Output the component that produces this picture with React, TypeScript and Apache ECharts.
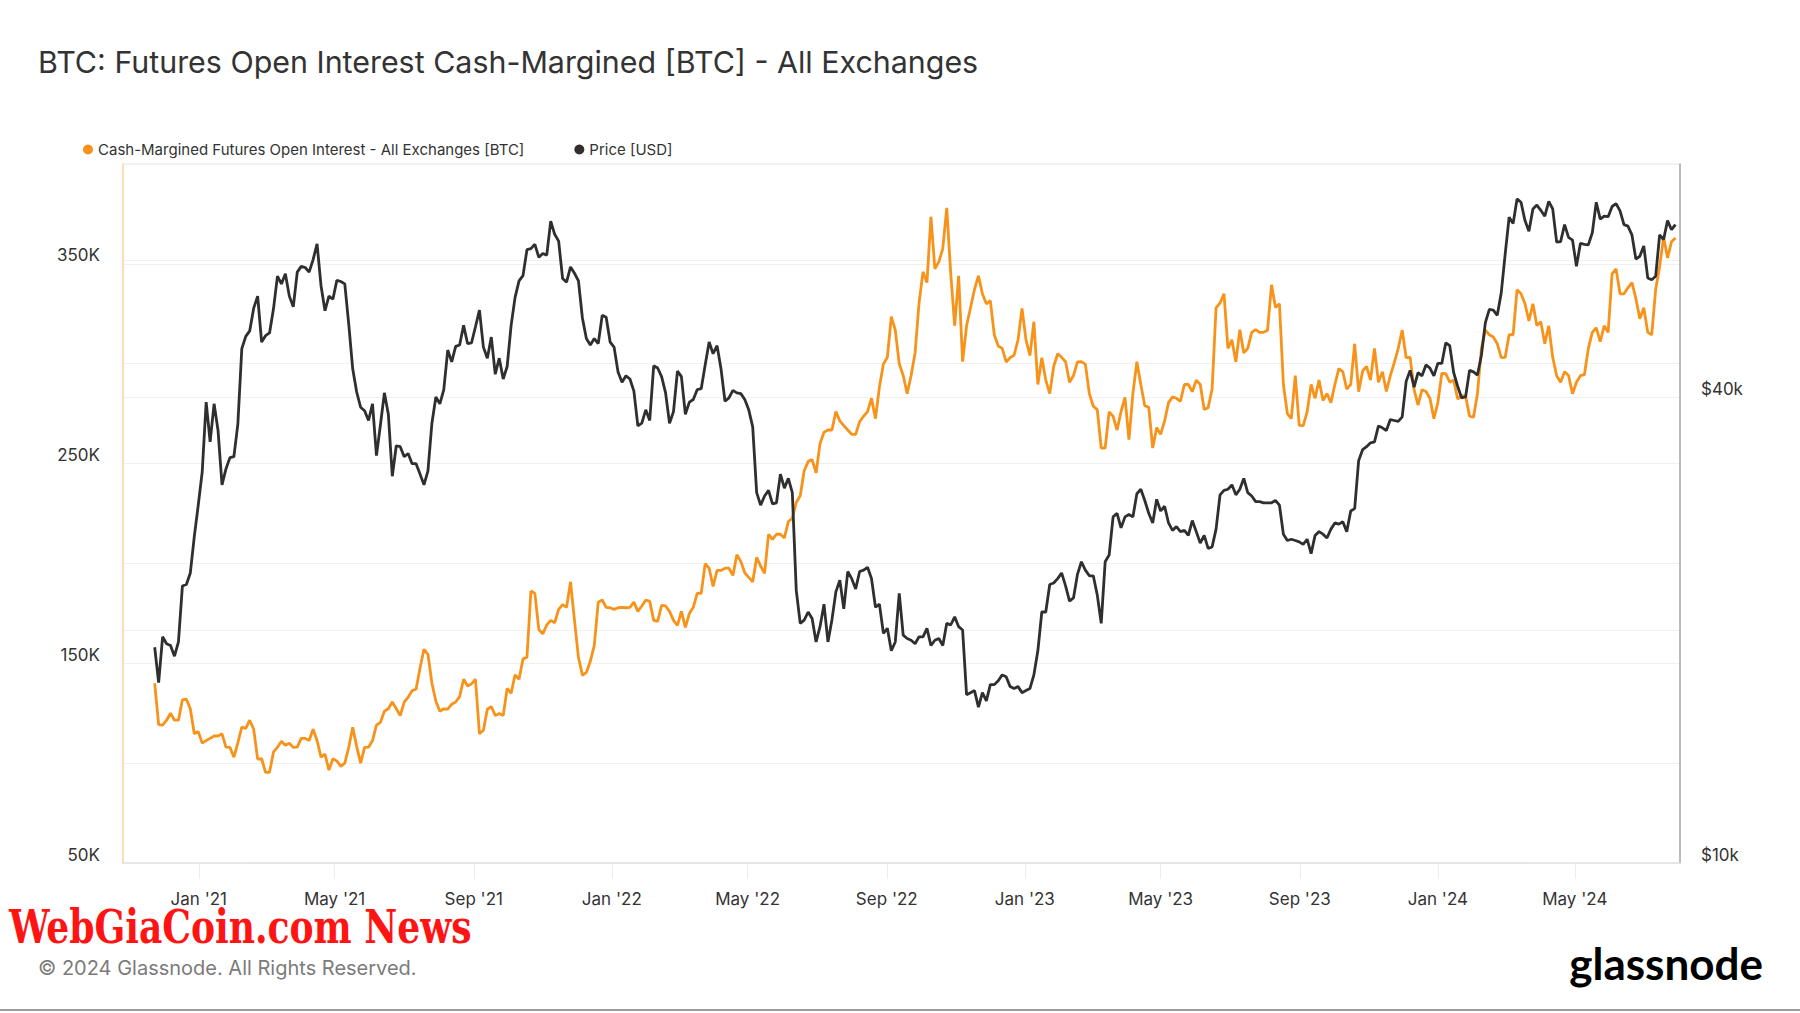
import React, { useEffect, useRef } from 'react';
import * as echarts from 'echarts';

// Samples every 3.5 days starting 2020-11-23
const START_DATE_UTC = Date.UTC(2020, 10, 23);
const SAMPLE_STEP_DAYS = 3.5;

// Cash-margined futures open interest, thousands of BTC
const OPEN_INTEREST_K = [
  140, 119.3, 119, 121.5, 125, 121.5, 121.5, 131.7, 132, 127.2,
  114.7, 115.8, 110, 111.3, 112.4, 113.6, 113.6, 114.7, 108, 107.9,
  103, 110.2, 118, 117.4, 121.5, 117, 102, 102.2, 95.4, 95.4,
  105.6, 107.9, 111, 109, 110, 107.9, 108, 112.4, 112.4, 111.3,
  117, 111.3, 103, 104.5, 96.5, 102.2, 101, 98.4, 100, 107.9,
  118, 108.4, 100, 107.9, 108, 111.3, 119, 120.4, 126, 127.2,
  130.6, 127.2, 123.8, 130.6, 133, 136.3, 137, 147.6, 157, 154.5,
  140, 131, 126, 127.2, 127, 129.5, 130.6, 133.3, 142, 138.6,
  139.7, 142, 114.7, 116.5, 127, 128.3, 123.8, 124.9, 123.8, 137.4,
  135, 144.2, 142, 152.2, 153, 186.2, 185, 166.9, 164.7, 169.2,
  171.5, 170.3, 177, 179.4, 178, 190.8, 171.5, 153, 144, 145.4,
  151, 159, 180.6, 181.7, 178, 177.8, 177, 177.8, 178, 177.8,
  178, 180.6, 176, 178.7, 181.7, 181, 171.5, 171, 179, 178.7,
  176, 171.5, 169, 176, 168, 174.9, 178, 185.1, 185, 199.9,
  197.6, 188.5, 196.5, 196.5, 197.6, 197.6, 194, 204.4, 201, 195.3,
  193, 190.8, 203, 198.7, 195, 214.6, 212, 214.6, 214.6, 212.8,
  221, 222.6, 230.5, 233.9, 246.4, 251, 252, 245.3, 260, 265.7,
  266.8, 266.8, 276, 271.4, 269, 266.8, 264.6, 264.6, 271, 273.7,
  276, 282.7, 272.5, 288.4, 299.8, 303.2, 323.6, 316.8, 300, 294.1,
  285, 294.1, 305.4, 330.4, 346, 340.6, 373.6, 347.5, 351, 357.7,
  378, 345.2, 319, 344, 301, 319, 328, 337.2, 344, 335,
  330, 331.6, 314.5, 308.9, 307.7, 300.9, 303, 304.3, 312, 327.7,
  312, 304.1, 321, 289.6, 303, 291.8, 285, 298.6, 305, 303.2,
  301, 290.7, 294, 300.9, 301, 299.8, 285, 278.7, 277, 257.8,
  257.8, 275.9, 273.7, 266.8, 276, 283.2, 262, 285, 301, 289.6,
  279, 278.2, 257.8, 268, 264.6, 271.4, 280.5, 283.4, 282.7, 281.2,
  289.6, 289.6, 286, 291.8, 289.6, 277.1, 278, 287.3, 328, 330.4,
  335, 307.7, 312, 300.9, 317, 305.4, 307.7, 315.7, 317, 315.7,
  315.7, 316.8, 339.5, 328.2, 330, 289.6, 275, 272.5, 294, 269.1,
  269, 275.9, 289.6, 282.7, 291.8, 281.6, 285, 280.5, 289.6, 297.5,
  296, 287.3, 289.6, 310, 286, 296.4, 298.6, 291.8, 307.7, 290.7,
  296, 286.1, 294, 300.5, 307.7, 316.8, 303, 303.2, 287, 279.3,
  287, 286.1, 282.7, 272.5, 280.5, 295.2, 295, 290.7, 291.8, 282.3,
  284, 283.9, 273.7, 273.2, 285, 307.7, 316.8, 314.5, 313.4, 310,
  303, 303.2, 314.5, 314.5, 337, 335, 330, 321.4, 330, 319.1,
  321, 310, 319, 303.2, 294, 290.7, 296, 294.1, 285, 290.7,
  294, 294.5, 307.7, 315.7, 318, 311.1, 319, 315.7, 345, 347.5,
  335, 335, 338, 340.6, 332.7, 322.5, 328, 315.7, 314.5, 337.2,
  348.6, 363.4, 353, 361.1, 363,
];

// BTC price, thousands of USD
const PRICE_K = [
  19.0, 17.1, 19.6, 19.2, 19.1, 18.5, 19.3, 22.8, 22.9, 23.7,
  26.4, 29.0, 32.0, 39.4, 35.0, 39.2, 36.2, 30.8, 32.3, 33.4,
  33.5, 36.9, 46.2, 47.9, 48.7, 52.1, 54.0, 47.1, 48.0, 48.4,
  52.0, 57.3, 56.0, 57.7, 54.0, 52.3, 58.0, 59.0, 58.8, 58.0,
  60.2, 63.1, 55.7, 51.7, 54.0, 53.5, 56.6, 56.4, 56.0, 49.7,
  43.5, 40.6, 38.8, 38.4, 37.3, 39.2, 33.6, 36.8, 40.5, 38.0,
  31.6, 34.6, 34.5, 33.5, 33.8, 32.8, 32.8, 31.8, 30.8, 32.1,
  37.0, 40.0, 39.2, 40.9, 46.0, 44.4, 46.5, 46.7, 49.5, 46.9,
  47.0, 49.3, 51.8, 46.4, 44.9, 47.8, 42.8, 44.9, 42.2, 43.8,
  49.5, 53.8, 56.5, 57.4, 62.0, 62.2, 63.0, 60.6, 61.3, 61.0,
  67.5, 64.9, 63.6, 56.9, 56.3, 58.9, 57.8, 56.5, 50.6, 47.6,
  46.7, 47.6, 46.9, 51.0, 50.7, 47.1, 46.4, 43.1, 41.8, 42.6,
  42.2, 40.7, 36.7, 37.0, 38.5, 37.3, 43.9, 43.6, 42.5, 40.5,
  37.0, 38.3, 43.2, 42.5, 38.0, 39.4, 39.7, 40.9, 41.0, 44.0,
  47.1, 45.5, 46.6, 43.5, 39.5, 39.9, 40.8, 40.5, 40.4, 39.7,
  38.5, 36.6, 30.1, 29.0, 29.8, 30.3, 29.1, 29.2, 31.8, 30.5,
  31.4, 30.1, 22.5, 20.4, 20.6, 21.1, 20.7, 19.3, 20.2, 21.6,
  19.3, 20.6, 22.4, 23.2, 21.3, 23.8, 23.3, 22.6, 23.8, 23.9,
  24.1, 23.3, 21.4, 21.6, 19.8, 20.1, 18.8, 19.3, 22.3, 19.7,
  19.5, 19.4, 19.2, 19.6, 19.6, 20.1, 19.1, 19.4, 19.5, 19.1,
  20.4, 20.3, 20.8, 20.2, 20.0, 16.5, 16.6, 16.7, 15.9, 16.6,
  16.2, 17.0, 17.0, 17.2, 17.5, 17.4, 16.9, 16.8, 16.9, 16.6,
  16.7, 16.8, 17.5, 18.8, 21.1, 21.1, 22.9, 23.0, 23.3, 23.7,
  22.8, 21.8, 22.0, 23.6, 24.5, 23.9, 23.5, 23.5, 22.2, 20.4,
  24.5, 25.0, 28.0, 28.3, 27.1, 28.0, 28.2, 28.0, 30.0, 30.4,
  29.4, 28.3, 27.5, 29.5, 28.5, 28.9, 27.5, 26.9, 27.2, 26.8,
  26.9, 26.5, 27.7, 26.8, 25.9, 26.5, 25.5, 25.6, 27.0, 29.9,
  30.3, 30.4, 30.8, 29.9, 30.4, 31.4, 30.1, 29.8, 29.3, 29.3,
  29.2, 29.2, 29.2, 29.4, 29.0, 26.6, 26.1, 26.2, 26.1, 26.0,
  25.8, 26.2, 25.1, 26.5, 26.8, 26.6, 26.3, 27.0, 27.5, 27.4,
  27.6, 26.8, 28.5, 28.7, 33.1, 34.2, 34.5, 34.9, 35.0, 36.7,
  36.5, 36.2, 37.4, 37.3, 37.2, 37.7, 41.9, 43.3, 41.2, 43.0,
  42.6, 44.0, 43.6, 42.6, 44.2, 44.2, 47.0, 46.6, 43.0, 41.3,
  39.9, 40.0, 43.3, 43.1, 42.7, 45.3, 49.9, 51.9, 51.8, 51.0,
  54.5, 61.2, 68.3, 67.0, 72.1, 71.4, 67.6, 65.5, 70.0, 70.8,
  69.7, 68.5, 71.6, 70.0, 63.4, 63.5, 66.8, 64.3, 63.8, 59.0,
  63.2, 63.0, 62.9, 65.2, 71.4, 67.9, 68.5, 68.4, 70.5, 71.1,
  69.6, 66.8, 66.5, 64.8, 60.3, 60.8, 62.7, 57.0, 56.7, 57.3,
  64.8, 63.9, 67.6, 65.8, 66.8,
];

const X_TICK_DATES = [
  '2021-01-01', '2021-05-01', '2021-09-01', '2022-01-01', '2022-05-01', '2022-09-01',
  '2023-01-01', '2023-05-01', '2023-09-01', '2024-01-01', '2024-05-01',
];
const X_MIN_DATE = '2020-10-26';
const X_MAX_DATE = '2024-08-02';
const MONTH_NAMES = ['Jan', 'Feb', 'Mar', 'Apr', 'May', 'Jun', 'Jul', 'Aug', 'Sep', 'Oct', 'Nov', 'Dec'];
const LEFT_LABELS_K = [50, 150, 250, 350];
const RIGHT_GRID_K = [10, 20, 40, 60, 80];
const RIGHT_LABELS_K = [10, 40];

const TITLE = 'BTC: Futures Open Interest Cash-Margined [BTC] - All Exchanges';
const OI_NAME = 'Cash-Margined Futures Open Interest - All Exchanges [BTC]';
const PRICE_NAME = 'Price [USD]';
const WATERMARK = 'WebGiaCoin.com News';
const COPYRIGHT = '© 2024 Glassnode. All Rights Reserved.';

const ORANGE = '#f7931a';
const DARK = '#2f2f2f';
const FONT = 'Inter, "Noto Sans", sans-serif';

const toUtc = (s: string) => Date.parse(s + 'T00:00:00Z');

export default function App() {
  const ref = useRef<HTMLDivElement>(null);

  useEffect(() => {
    if (!ref.current) return;
    const chart = echarts.init(ref.current, null, { renderer: 'svg' });
    const dayMs = 86400000;
    const times = OPEN_INTEREST_K.map((_, i) => START_DATE_UTC + i * SAMPLE_STEP_DAYS * dayMs);
    const tickTimes = X_TICK_DATES.map(toUtc);

    // scale the watermark to its width in the reference
    let wmScale = 1;
    const cv = document.createElement('canvas').getContext('2d');
    if (cv) {
      cv.font = 'bold 46px "DejaVu Serif Condensed"';
      const w = cv.measureText(WATERMARK).width;
      if (w > 0) wmScale = 463 / w;
    }

    chart.setOption({
      animation: false,
      backgroundColor: '#ffffff',
      title: {
        text: TITLE,
        left: 38,
        top: 47,
        padding: 0,
        textStyle: { fontFamily: FONT, fontSize: 30.4, fontWeight: 'normal', color: '#333333' },
      },
      legend: {
        left: 83,
        top: 142,
        padding: 0,
        icon: 'circle',
        itemWidth: 10,
        itemHeight: 10,
        itemGap: 50,
        data: [OI_NAME, PRICE_NAME],
        textStyle: { fontFamily: FONT, fontSize: 15, color: '#333333' },
      },
      grid: {
        left: 123,
        right: 120,
        top: 164,
        bottom: 150,
        show: true,
        borderColor: '#ebebeb',
        borderWidth: 1,
      },
      xAxis: {
        type: 'value',
        min: toUtc(X_MIN_DATE),
        max: toUtc(X_MAX_DATE),
        axisLine: { show: true, lineStyle: { color: '#e2e2e2', width: 1.5 } },
        axisTick: { show: true, customValues: tickTimes, length: 16, lineStyle: { color: '#ececec' } },
        axisLabel: {
          customValues: tickTimes,
          formatter: (v: number) => {
            const d = new Date(v);
            return MONTH_NAMES[d.getUTCMonth()] + " '" + String(d.getUTCFullYear()).slice(2);
          },
          margin: 27,
          fontSize: 17,
          color: '#333333',
          fontFamily: FONT,
        },
        splitLine: { show: false },
      },
      yAxis: [
        {
          type: 'value',
          position: 'left',
          min: 50,
          max: 400,
          interval: 50,
          axisLine: { show: true, lineStyle: { color: '#fcd4a0', width: 1.5 } },
          axisTick: { show: false },
          axisLabel: {
            formatter: (v: number) => (LEFT_LABELS_K.includes(Math.round(v)) ? Math.round(v) + 'K' : ''),
            fontSize: 17,
            color: '#333333',
            fontFamily: FONT,
            margin: 23,
            verticalAlign: 'bottom',
          },
          splitLine: { show: true, lineStyle: { color: '#f0f0f0', width: 1 } },
        },
        {
          type: 'log',
          logBase: 2,
          position: 'right',
          min: 10,
          max: 80,
          axisLine: { show: true, lineStyle: { color: '#a8a8a8', width: 1.5 } },
          axisTick: { show: false, customValues: RIGHT_GRID_K },
          axisLabel: {
            customValues: RIGHT_LABELS_K,
            formatter: (v: number) => '$' + Math.round(v) + 'k',
            fontSize: 17,
            color: '#333333',
            fontFamily: FONT,
            margin: 21,
            verticalAlign: 'bottom',
          },
          splitLine: { show: true, lineStyle: { color: '#f0f0f0', width: 1 } },
        },
      ],
      series: [
        {
          name: OI_NAME,
          type: 'line',
          yAxisIndex: 0,
          data: times.map((t, i) => [t, OPEN_INTEREST_K[i]]),
          symbol: 'none',
          showSymbol: false,
          lineStyle: { color: ORANGE, width: 2.8 },
          itemStyle: { color: ORANGE },
          z: 2,
        },
        {
          name: PRICE_NAME,
          type: 'line',
          yAxisIndex: 1,
          data: times.map((t, i) => [t, PRICE_K[i]]),
          symbol: 'none',
          showSymbol: false,
          lineStyle: { color: DARK, width: 2.8 },
          itemStyle: { color: DARK },
          z: 3,
        },
      ],
      graphic: [
        {
          type: 'text',
          x: 9,
          y: 926,
          scaleX: wmScale,
          style: {
            text: WATERMARK,
            fontFamily: '"DejaVu Serif Condensed", "DejaVu Serif", serif',
            fontWeight: 'bold',
            fontSize: 46,
            fill: '#ff1414',
            textAlign: 'left',
            textVerticalAlign: 'middle',
          },
        },
        {
          type: 'text',
          x: 38,
          y: 968,
          style: {
            text: COPYRIGHT,
            fontFamily: FONT,
            fontSize: 20,
            fill: '#7b7b7b',
            textAlign: 'left',
            textVerticalAlign: 'middle',
          },
        },
        {
          type: 'text',
          x: 1763,
          y: 963,
          style: {
            text: 'glassnode',
            fontFamily: 'Lato, "Noto Sans", sans-serif',
            fontWeight: 'bold',
            fontSize: 44,
            fill: '#000000',
            textAlign: 'right',
            textVerticalAlign: 'middle',
          },
        },
        {
          type: 'rect',
          x: 0,
          y: 1009,
          shape: { width: 1800, height: 2 },
          style: { fill: '#9c9c9c' },
        },
      ],
    });

    return () => chart.dispose();
  }, []);

  return (
    <div
      ref={ref}
      style={{ position: 'fixed', left: 0, top: 0, width: 1800, height: 1013, background: '#ffffff' }}
    />
  );
}
